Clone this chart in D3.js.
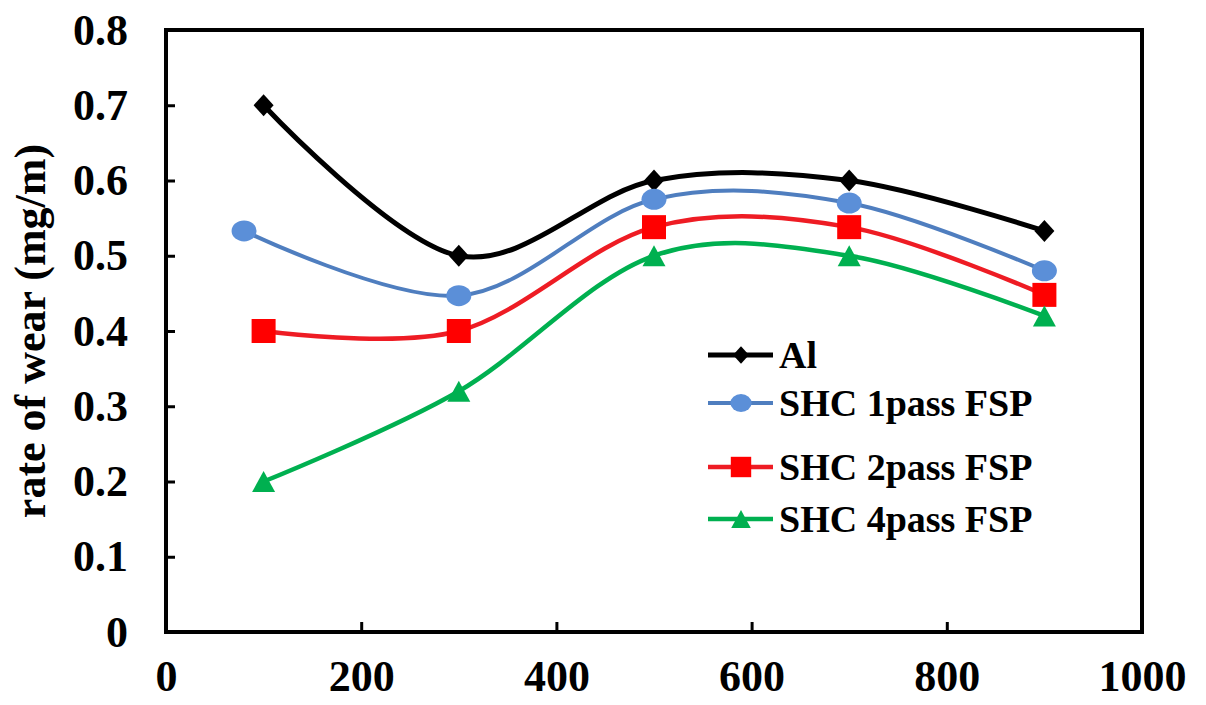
<!DOCTYPE html>
<html>
<head>
<meta charset="utf-8">
<script src="https://cdn.jsdelivr.net/npm/d3@7"></script>
<style>
  html, body { margin: 0; padding: 0; background: #fff; }
  svg { display: block; }
  text { font-family: "Liberation Serif", "Times New Roman", serif; font-weight: bold; fill: #000; }
</style>
</head>
<body>
<svg id="chart" width="1206" height="705"></svg>
<script>
// Wear rate data (mg/m) versus sliding distance
const seriesNames = ["Al", "SHC 1pass FSP", "SHC 2pass FSP", "SHC 4pass FSP"];
const xAl   = [100, 300, 500, 700, 900];
const yAl   = [0.70, 0.50, 0.60, 0.60, 0.533];
const xSHC1 = [80, 300, 500, 700, 900];
const ySHC1 = [0.533, 0.447, 0.575, 0.570, 0.480];
const xSHC2 = [100, 300, 500, 700, 900];
const ySHC2 = [0.40, 0.40, 0.538, 0.538, 0.448];
const xSHC4 = [100, 300, 500, 700, 900];
const ySHC4 = [0.20, 0.32, 0.50, 0.50, 0.42];
const xTicks = [0, 200, 400, 600, 800, 1000];
const yTicks = [0, 0.1, 0.2, 0.3, 0.4, 0.5, 0.6, 0.7, 0.8];
const yTitle = "rate of wear (mg/m)";

const styles = [
  { line: "#000000", fill: "#000000", width: 5,   marker: "diamond" },
  { line: "#4f7ebf", fill: "#5b8fd8", width: 4,   marker: "circle" },
  { line: "#ee1c24", fill: "#ff0000", width: 4.5, marker: "square" },
  { line: "#00b050", fill: "#00b050", width: 4.5, marker: "triangle" }
];

const series = [
  { name: seriesNames[0], pts: xAl.map((x, i) => [x, yAl[i]]) },
  { name: seriesNames[1], pts: xSHC1.map((x, i) => [x, ySHC1[i]]) },
  { name: seriesNames[2], pts: xSHC2.map((x, i) => [x, ySHC2[i]]) },
  { name: seriesNames[3], pts: xSHC4.map((x, i) => [x, ySHC4[i]]) }
];

const svg = d3.select("#chart");
const plotLeft = 166, plotRight = 1142, plotTop = 30, plotBottom = 632;

const x = d3.scaleLinear().domain([0, 1000]).range([plotLeft, plotRight]);
const y = d3.scaleLinear().domain([0, 0.8]).range([plotBottom, plotTop]);

// marker shapes
function drawMarker(g, type, cx, cy, fill, s) {
  s = s || 1;
  if (type === "diamond") {
    const w = 10 * s, h = 11 * s;
    g.append("path").attr("d", `M${cx},${cy - h}L${cx + w},${cy}L${cx},${cy + h}L${cx - w},${cy}Z`).attr("fill", fill);
  } else if (type === "circle") {
    g.append("ellipse").attr("cx", cx).attr("cy", cy).attr("rx", 12.5 * s).attr("ry", 10.5 * s).attr("fill", fill);
  } else if (type === "square") {
    const h = 12 * s;
    g.append("rect").attr("x", cx - h).attr("y", cy - h).attr("width", 2 * h).attr("height", 2 * h).attr("fill", fill);
  } else if (type === "triangle") {
    const w = 11.5 * s, h = 10.5 * s;
    g.append("path").attr("d", `M${cx},${cy - h}L${cx + w},${cy + h}L${cx - w},${cy + h}Z`).attr("fill", fill);
  }
}

// axis frame with inward ticks
const axisG = svg.append("g");
const xAxis = d3.axisBottom(x).tickValues(xTicks).tickSize(-10).tickFormat(d3.format("d")).tickPadding(28);
const yAxis = d3.axisLeft(y).tickValues(yTicks).tickSize(-9).tickFormat(d => d === 0 ? "0" : d3.format(".1f")(d)).tickPadding(38);

const gx = axisG.append("g").attr("transform", `translate(0,${plotBottom})`).call(xAxis);
const gy = axisG.append("g").attr("transform", `translate(${plotLeft},0)`).call(yAxis);
[gx, gy].forEach(g => {
  g.select(".domain").remove();
  g.selectAll(".tick line").attr("stroke", "#000").attr("stroke-width", 3);
  g.selectAll(".tick text").style("font-size", "44px").style("font-family", "'Liberation Serif', serif").style("font-weight", "bold").attr("fill", "#000");
});
gx.selectAll(".tick text").attr("dy", "0.71em");
gx.selectAll(".tick").filter(d => d === 0 || d === 1000).select("line").remove();
gy.selectAll(".tick").filter(d => d === 0 || d === 0.8).select("line").remove();

axisG.append("rect")
  .attr("x", plotLeft).attr("y", plotTop)
  .attr("width", plotRight - plotLeft).attr("height", plotBottom - plotTop)
  .attr("fill", "none").attr("stroke", "#000").attr("stroke-width", 4);

// y-axis title
svg.append("text")
  .attr("transform", `translate(45,${(plotTop + plotBottom) / 2}) rotate(-90)`)
  .attr("text-anchor", "middle")
  .style("font-size", "44px")
  .text(yTitle);

// smoothed series lines
const line = d3.line().x(d => x(d[0])).y(d => y(d[1])).curve(d3.curveCatmullRom.alpha(0));
const linesG = svg.append("g");
series.forEach((s, i) => {
  linesG.append("path").attr("d", line(s.pts))
    .attr("fill", "none").attr("stroke", styles[i].line)
    .attr("stroke-width", styles[i].width).attr("stroke-linejoin", "round");
});
const markG = svg.append("g");
series.forEach((s, i) => {
  s.pts.forEach(p => drawMarker(markG, styles[i].marker, x(p[0]), y(p[1]), styles[i].fill));
});

// legend
const legendRows = [355, 403, 467, 519];
const legG = svg.append("g");
series.forEach((s, i) => {
  const ly = legendRows[i];
  legG.append("line").attr("x1", 708).attr("x2", 773).attr("y1", ly).attr("y2", ly)
    .attr("stroke", styles[i].line).attr("stroke-width", styles[i].width);
  drawMarker(legG, styles[i].marker, 741, ly, styles[i].fill, i === 0 ? 0.8 : 0.85);
  legG.append("text").attr("x", 779).attr("y", ly).attr("dy", "0.35em")
    .style("font-size", "38px").text(s.name);
});
</script>
</body>
</html>
